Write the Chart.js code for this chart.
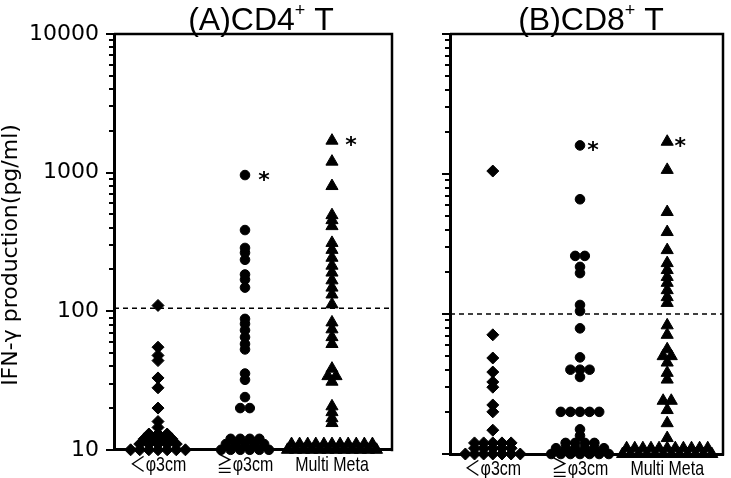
<!DOCTYPE html>
<html>
<head>
<meta charset="utf-8">
<script src="https://cdn.jsdelivr.net/npm/chart.js@4.4.1/dist/chart.umd.min.js"></script>
<style>
  html, body { margin: 0; padding: 0; background: #fff; }
  #wrap { position: relative; width: 731px; height: 478px; overflow: hidden; }
  canvas { position: absolute; top: 0; }
  #chartA { left: 0; }
  #chartB { left: 420px; }
</style>
</head>
<body>
<div id="wrap">
  <canvas id="chartA" width="400" height="478"></canvas>
  <canvas id="chartB" width="311" height="478"></canvas>
</div>
<script>
// ---- data (IFN-gamma, pg/ml) ----
const categories = ['＜φ3cm', '≧φ3cm', 'Multi Meta'];
const yTickLabels = [10, 100, 1000, 10000];

// (A) CD4+ T
const cd4Small = [110, 55, 48, 44, 33, 28, 20, 16, 14.5,
  13, 13, 13, 12, 12, 12, 12, 11, 11, 11, 11, 11, 10, 10, 10, 10, 10, 10, 10];
const cd4Large = [960, 385, 286, 264, 235, 184, 169, 148, 88, 81, 73, 65, 58, 53,
  35.5, 32, 24, 20, 20, 12, 12, 12, 12, 11, 11, 11, 11, 11, 10, 10, 10, 10, 10, 10];
const cd4Multi = [1700, 1200, 800, 493, 454, 411, 311, 277, 243, 213, 190, 167, 148, 132, 112,
  83, 74, 65, 58, 38.5, 34, 34, 31, 20.6, 18.7, 16.9, 15.6,
  11, 11, 11, 11, 11, 11, 11, 11, 11, 11, 11,
  10, 10, 10, 10, 10, 10, 10, 10, 10, 10, 10, 10];
const cd4Cutoff = 105;
const cd4Stars = [{ cat: 2, value: 960 }, { cat: 3, value: 1700 }];

// (B) CD8+ T
const cd8Small = [1050, 71, 48.5, 38.5, 32.7, 30, 22.4, 20, 14.8,
  12, 12, 12, 12, 12, 11, 11, 11, 11, 11, 10, 10, 10, 10, 10, 10, 10];
const cd8Large = [1600, 660, 260, 260, 217, 196, 116, 105, 79, 49, 40, 40, 40, 35.5,
  20, 20, 20, 20, 20, 15, 13.5, 12, 12, 12, 12, 11, 11, 11, 11, 11, 11,
  10, 10, 10, 10, 10, 10, 10];
const cd8Multi = [1700, 1070, 535, 385, 286, 231, 206, 184, 167, 148, 132, 120,
  83, 71, 56, 50, 50, 45, 38, 34, 24, 24, 20.6, 16.6, 13,
  11, 11, 11, 11, 11, 11, 11, 11, 11, 11, 11,
  10, 10, 10, 10, 10, 10, 10, 10, 10, 10, 10, 10];
const cd8Cutoff = 100;
const cd8Stars = [{ cat: 2, value: 1600 }, { cat: 3, value: 1700 }];

// dot-plot layout: equal values sit side by side around the category centre
function spread(values, cat, step) {
  const counts = {};
  values.forEach(v => { counts[v] = (counts[v] || 0) + 1; });
  const seen = {};
  return values.map(v => {
    seen[v] = (seen[v] === undefined) ? 0 : seen[v] + 1;
    return { x: cat + (seen[v] - (counts[v] - 1) / 2) * step, y: v };
  });
}

function groupDataset(values, cat, style, radius, step) {
  return {
    data: spread(values, cat, step),
    pointStyle: style,
    pointRadius: radius,
    pointHoverRadius: radius,
    backgroundColor: '#000',
    borderColor: '#000',
    borderWidth: 1,
    clip: false,
  };
}

// frame, tick marks, category labels, panel title, y title and asterisks
const panelDecor = {
  id: 'panelDecor',
  afterDraw(chart, args, opts) {
    const { ctx, chartArea: a, scales: { x, y } } = chart;
    ctx.save();
    ctx.strokeStyle = '#000';
    ctx.fillStyle = '#000';

    ctx.lineWidth = 2.5;
    ctx.beginPath();
    ctx.moveTo(a.left, a.top);
    ctx.lineTo(a.right, a.top);
    ctx.lineTo(a.right, a.bottom + 1.5);
    ctx.stroke();

    ctx.lineWidth = 2;
    y.ticks.forEach(t => {
      const py = Math.round(y.getPixelForValue(t.value));
      const len = yTickLabels.includes(t.value) ? 8 : 5;
      ctx.beginPath();
      ctx.moveTo(a.left - len, py);
      ctx.lineTo(a.left, py);
      ctx.stroke();
    });

    // category labels, narrow face
    ctx.textAlign = 'center';
    ctx.textBaseline = 'middle';
    ctx.font = '21px "Liberation Sans", "Noto Sans CJK JP", sans-serif';
    categories.forEach((label, i) => {
      ctx.save();
      ctx.translate(x.getPixelForValue(i + 1), a.bottom + 15);
      ctx.scale(0.76, 1);
      ctx.fillText(label, 0, 0);
      ctx.restore();
    });

    // title with superscript
    const [main, sup, tail] = opts.title;
    ctx.textBaseline = 'alphabetic';
    ctx.textAlign = 'left';
    ctx.font = '32px "Liberation Sans"';
    const w1 = ctx.measureText(main).width;
    const w3 = ctx.measureText(tail).width;
    ctx.font = '18px "Liberation Sans"';
    const w2 = ctx.measureText(sup).width;
    let tx = opts.titleX - (w1 + w2 + w3) / 2;
    ctx.font = '32px "Liberation Sans"';
    ctx.fillText(main, tx, 30);
    tx += w1;
    ctx.font = '18px "Liberation Sans"';
    ctx.fillText(sup, tx, 16);
    tx += w2;
    ctx.font = '32px "Liberation Sans"';
    ctx.fillText(tail, tx, 30);

    if (opts.yTitle) {
      ctx.save();
      ctx.translate(11, 255);
      ctx.rotate(-Math.PI / 2);
      ctx.textAlign = 'center';
      ctx.textBaseline = 'middle';
      ctx.font = '22px "DejaVu Sans"';
      ctx.fillText(opts.yTitle, 0, 0);
      ctx.restore();
    }

    ctx.font = 'bold 22px "DejaVu Sans"';
    ctx.textAlign = 'center';
    ctx.textBaseline = 'middle';
    opts.stars.forEach(s => {
      ctx.fillText('*', x.getPixelForValue(s.cat) + opts.starOffset, y.getPixelForValue(s.value) + 6);
    });
    ctx.restore();
  }
};

function makePanel(canvasId, groups, cutoff, range, yWidth, padRight, showLabels, decor) {
  const ctx = document.getElementById(canvasId).getContext('2d');
  return new Chart(ctx, {
    type: 'scatter',
    data: {
      datasets: [
        groupDataset(groups[0], 1, 'rectRot', 6, 0.105),
        groupDataset(groups[1], 2, 'circle', 4.8, 0.11),
        groupDataset(groups[2], 3, 'triangle', 7, 0.093),
        {
          data: [{ x: range[0], y: cutoff }, { x: range[1], y: cutoff }],
          showLine: true,
          borderColor: '#000',
          borderWidth: 1.5,
          borderDash: [5, 4],
          pointRadius: 0,
          pointHoverRadius: 0,
        }
      ]
    },
    options: {
      responsive: false,
      animation: false,
      devicePixelRatio: 1,
      layout: { padding: { top: 34, right: padRight, left: 0, bottom: 0 } },
      plugins: {
        legend: { display: false },
        tooltip: { enabled: false },
        panelDecor: decor,
      },
      scales: {
        x: {
          type: 'linear',
          min: range[0],
          max: range[1],
          grid: { display: false, drawTicks: false },
          border: { display: true, color: '#000', width: 3 },
          afterBuildTicks: scale => { scale.ticks = [1, 2, 3].map(v => ({ value: v })); },
          afterFit: scale => { scale.height = 24; },
          ticks: { display: false }
        },
        y: {
          type: 'logarithmic',
          min: 10,
          max: 10000,
          grid: { display: false, drawTicks: false },
          border: { display: true, color: '#000', width: 3 },
          afterBuildTicks: scale => {
            const ticks = [];
            [10, 100, 1000].forEach(d => {
              for (let m = 1; m < 10; m++) ticks.push({ value: m * d });
            });
            ticks.push({ value: 10000 });
            scale.ticks = ticks;
          },
          afterFit: scale => { scale.width = yWidth; },
          ticks: {
            display: showLabels,
            autoSkip: false,
            padding: 15,
            color: '#000',
            font: { family: '"DejaVu Sans"', size: 22 },
            callback: value => yTickLabels.includes(value) ? String(value) : '',
          }
        }
      }
    },
    plugins: [panelDecor]
  });
}

makePanel('chartA', [cd4Small, cd4Large, cd4Multi], cd4Cutoff, [0.494, 3.69], 114, 8, true,
  { title: ['(A)CD4', '+', ' T'], titleX: 261, yTitle: 'IFN-γ production(pg/ml)', stars: cd4Stars, starOffset: 19 });
makePanel('chartB', [cd8Small, cd8Large, cd8Multi], cd8Cutoff, [0.509, 3.64], 30, 7, false,
  { title: ['(B)CD8', '+', ' T'], titleX: 171, yTitle: null, stars: cd8Stars, starOffset: 13 });
</script>
</body>
</html>
